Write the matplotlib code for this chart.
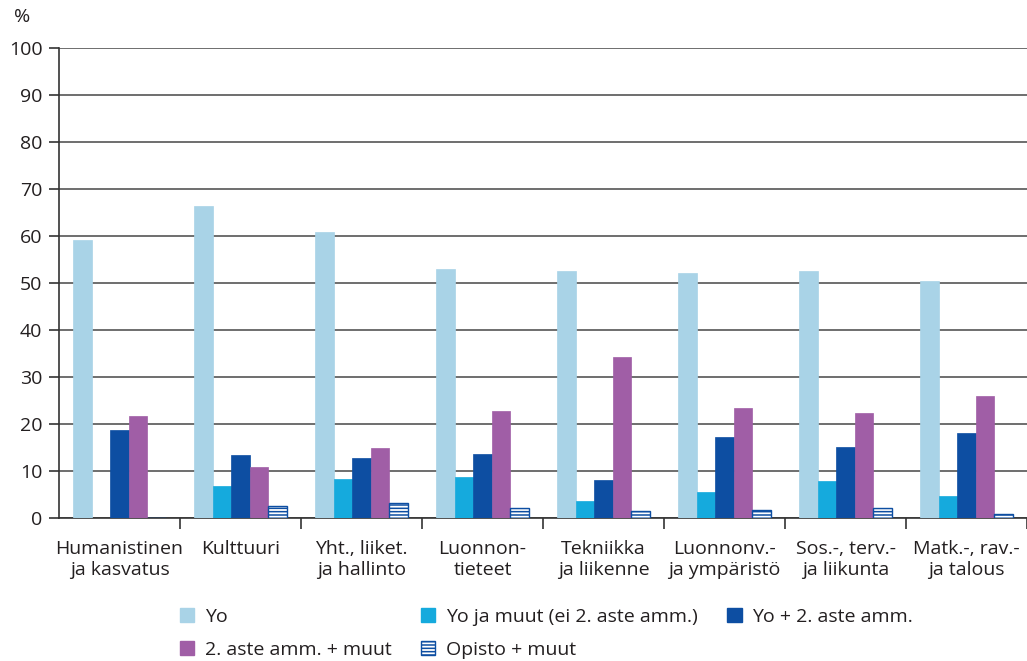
import matplotlib
matplotlib.use("Agg")
import matplotlib.pyplot as plt
import numpy as np
from matplotlib.patches import Patch

plt.rcParams['font.family'] = ['Open Sans', 'DejaVu Sans']
plt.rcParams['hatch.linewidth'] = 1.1

categories = ["Humanistinen\nja kasvatus", "Kulttuuri", "Yht., liiket.\nja hallinto",
              "Luonnon-\ntieteet", "Tekniikka\nja liikenne", "Luonnonv.-\nja ympäristö",
              "Sos.-, terv.-\nja liikunta", "Matk.-, rav.-\nja talous"]
series_names = ["Yo", "Yo ja muut (ei 2. aste amm.)", "Yo + 2. aste amm.",
                "2. aste amm. + muut", "Opisto + muut"]
yo = [59.2, 66.3, 60.9, 53.0, 52.6, 52.1, 52.6, 50.4]
yo_ja_muut = [0, 6.8, 8.4, 8.7, 3.7, 5.5, 7.8, 4.7]
yo_2aste = [18.7, 13.5, 12.7, 13.6, 8.0, 17.3, 15.2, 18.1]
aste2_muut = [21.8, 10.8, 14.8, 22.7, 34.3, 23.3, 22.4, 26.0]
opisto = [0, 2.5, 3.2, 2.1, 1.5, 1.6, 2.1, 0.8]

colors = ["#a9d3e7", "#15aadd", "#0d4ea2", "#a05ea6", "white"]
data = [yo, yo_ja_muut, yo_2aste, aste2_muut, opisto]

fig = plt.figure(figsize=(10.27, 6.61), dpi=100)
ax = fig.add_axes([59/1027, 143/661, (1027-59)/1027, (518-48)/661])

x = np.arange(len(categories))
w = 0.154
for i, (vals, c) in enumerate(zip(data, colors)):
    pos = x + (i - 2) * w
    if i == 4:
        ax.bar(pos, vals, w, color="white", edgecolor="#0d4ea2", hatch="-----", linewidth=1.0, zorder=3)
    else:
        ax.bar(pos, vals, w, color=c, edgecolor=c, linewidth=0.5, zorder=3)

ax.set_xlim(-0.5, -0.5 + 968/121.5)
ax.set_ylim(0, 100)
ax.set_yticks(np.arange(0, 101, 10))
ax.yaxis.grid(True, color="#555555", linewidth=1.2, zorder=0)
ax.set_axisbelow(True)
for s in ["top", "right"]:
    ax.spines[s].set_visible(False)
for s in ["left", "bottom"]:
    ax.spines[s].set_color("#333333")
    ax.spines[s].set_linewidth(1.2)

ax.set_xticks(np.arange(0.5, 8, 1))
ax.set_xticklabels([])
ax.set_xticks(x, minor=True)
ax.set_xticklabels(categories, minor=True, fontsize=14, color="#231f20", linespacing=1.2)
ax.tick_params(axis='x', which='major', length=8, color="#333333", width=1.2)
ax.tick_params(axis='x', which='minor', length=0, pad=16)
ax.tick_params(axis='y', length=7, color="#333333", width=1.2, labelsize=14, labelcolor="#231f20", pad=5)

fig.text(22/1027, 1 - 17/661, "%", fontsize=14, color="#231f20", ha="center", va="center")

handles = [Patch(facecolor=c, edgecolor=c) for c in colors[:4]]
handles.append(Patch(facecolor="white", edgecolor="#0d4ea2", hatch="-----"))
order = [0, 3, 1, 4, 2]
leg = fig.legend([handles[k] for k in order], [series_names[k] for k in order],
                 ncol=3, loc="upper left", bbox_to_anchor=(168/1027, 1 - 596/661),
                 frameon=False, fontsize=14, handlelength=0.75, handleheight=0.75,
                 handletextpad=0.55, columnspacing=1.5, labelspacing=0.78, borderpad=0.1)
for t in leg.get_texts():
    t.set_color("#231f20")

fig.savefig("out.png", dpi=100)
